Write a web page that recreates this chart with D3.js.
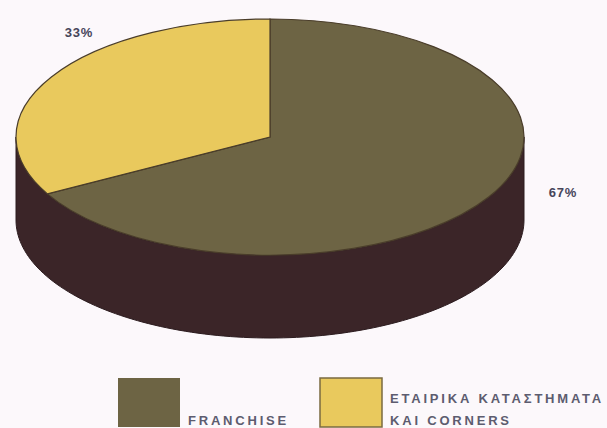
<!DOCTYPE html>
<html>
<head>
<meta charset="utf-8">
<script src="https://cdn.jsdelivr.net/npm/d3@7"></script>
<style>
  html, body { margin: 0; padding: 0; background: #fcf8fb; }
  svg { display: block; }
</style>
</head>
<body>
<svg id="chart" width="607" height="428"></svg>
<script>
// Shares of the store network
const categories = ["FRANCHISE", "ΕΤΑΙΡΙΚΑ ΚΑΤΑΣΤΗΜΑΤΑ ΚΑΙ CORNERS"];
const values = [67, 33];
const valueLabels = ["67%", "33%"];
const legendLines = [["FRANCHISE"], ["ΕΤΑΙΡΙΚΑ ΚΑΤΑΣΤΗΜΑΤΑ", "ΚΑΙ CORNERS"]];
const topColors = ["#6d6444", "#e9c95d"];
const sideColor = "#3b2528";

const svg = d3.select("#chart");

// Tilted-disc geometry
const cx = 270, cy = 137, rx = 254, ry = 118, depth = 83;
const sy = ry / rx;

const pie = d3.pie().sort(null).value(d => d)
  .startAngle(0).endAngle(2 * Math.PI);
const slices = pie(values);

const arc = d3.arc().innerRadius(0).outerRadius(rx);

// Side wall: front half of the disc, extruded downward
const side = d3.path();
const N = 120;
for (let i = 0; i <= N; i++) {
  const t = Math.PI * i / N;           // 0..π, right -> front -> left
  const x = cx + rx * Math.cos(t);
  const y = cy + ry * Math.sin(t);
  if (i === 0) side.moveTo(x, y); else side.lineTo(x, y);
}
for (let i = N; i >= 0; i--) {
  const t = Math.PI * i / N;
  side.lineTo(cx + rx * Math.cos(t), cy + depth + ry * Math.sin(t));
}
side.closePath();

svg.append("path")
  .attr("d", side.toString())
  .attr("fill", sideColor)
  .attr("stroke", "#2c1c1f")
  .attr("stroke-width", 1);

// Top face, drawn as a circular pie squashed vertically
const face = svg.append("g")
  .attr("transform", `translate(${cx},${cy}) scale(1,${sy})`);

face.selectAll("path.slice")
  .data(slices)
  .join("path")
  .attr("class", "slice")
  .attr("d", arc)
  .attr("fill", (d, i) => topColors[i])
  .attr("stroke", "#4a3d2a")
  .attr("stroke-width", 1.2)
  .attr("vector-effect", "non-scaling-stroke");

// Percentage labels
const labelPos = [[563, 197], [79, 37]];
svg.selectAll("text.pct")
  .data(slices)
  .join("text")
  .attr("class", "pct")
  .attr("x", (d, i) => labelPos[i][0])
  .attr("y", (d, i) => labelPos[i][1])
  .attr("text-anchor", "middle")
  .attr("font-family", "Liberation Sans, Arial, sans-serif")
  .attr("font-size", 13)
  .attr("font-weight", "bold")
  .attr("letter-spacing", 0.8)
  .attr("fill", "#47455a")
  .text((d, i) => valueLabels[i]);

// Legend
const legendX = [118, 320];
const legend = svg.selectAll("g.legend")
  .data(categories)
  .join("g")
  .attr("class", "legend")
  .attr("transform", (d, i) => `translate(${legendX[i]},378)`);

legend.append("rect")
  .attr("width", 62)
  .attr("height", 49)
  .attr("fill", (d, i) => topColors[i])
  .attr("stroke", (d, i) => i === 1 ? "#7a6a40" : "none")
  .attr("stroke-width", 1.5);

legend.each(function (d, i) {
  const lines = legendLines[i];
  const g = d3.select(this);
  const baseY = lines.length === 1 ? 47 : 25;
  lines.forEach((ln, k) => {
    g.append("text")
      .attr("x", 70)
      .attr("y", baseY + k * 22)
      .attr("font-family", "Liberation Sans, Arial, sans-serif")
      .attr("font-size", 13)
      .attr("font-weight", "bold")
      .attr("letter-spacing", 2.8)
      .attr("fill", "#5d5c6f")
      .text(ln);
  });
});
</script>
</body>
</html>
